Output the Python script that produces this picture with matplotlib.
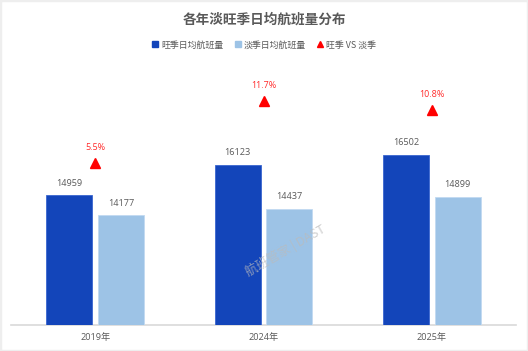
import matplotlib
matplotlib.use("Agg")
import matplotlib.pyplot as plt
from matplotlib.patches import Rectangle
from matplotlib.lines import Line2D
import numpy as np

plt.rcParams['font.family'] = ['Noto Sans CJK SC', 'DejaVu Sans']
numfam = ['Open Sans', 'Noto Sans CJK SC']

years = ["2019年", "2024年", "2025年"]
peak = [14959, 16123, 16502]
offpeak = [14177, 14437, 14899]
growth = [5.5, 11.7, 10.8]
growth_labels = ["5.5%", "11.7%", "10.8%"]

title = "各年淡旺季日均航班量分布"
leg_labels = ["旺季日均航班量", "淡季日均航班量", "旺季 VS 淡季"]

W, H = 528, 351
fig = plt.figure(figsize=(W / 100, H / 100), dpi=100)
fig.patch.set_facecolor("white")

left, right, top, bottom = 11, 516, 63.5, 324.5
ax = fig.add_axes([left / W, 1 - bottom / H, (right - left) / W, (bottom - top) / H])
ax.set_facecolor("none")

dark = "#1345BA"
light = "#9DC3E6"
grey = "#595959"

x = np.arange(len(years))
bw = 0.273
off = 0.154
b1 = ax.bar(x - off, peak, bw, color=dark, edgecolor="#3A66D0", linewidth=0.6, zorder=3)
b2 = ax.bar(x + off, offpeak, bw, color=light, edgecolor="#C2DAF1", linewidth=0.6, zorder=3)
ax.set_ylim(10000, 20000)
ax.set_xlim(-0.5, len(years) - 0.5)

for rect, v in zip(list(b1) + list(b2), peak + offpeak):
    ax.annotate(str(v), (rect.get_x() + rect.get_width() / 2, v), xytext=(0, 8.6),
                textcoords="offset points", ha="center", va="center",
                fontsize=6.6, color=grey, family=numfam)

for s in ["top", "right", "left"]:
    ax.spines[s].set_visible(False)
ax.spines["bottom"].set_color("#D9D9D9")
ax.spines["bottom"].set_linewidth(1.2)
ax.set_yticks([])
ax.set_xticks(x)
ax.set_xticklabels(years, fontsize=6.6, color=grey, family=numfam)
ax.tick_params(axis="x", length=0, pad=6)

ax2 = ax.twinx()
ax2.set_ylim(-10.65, 15.45)
ax2.plot(x, growth, linestyle="none", marker="^", markersize=7.5, color="#FF0000", zorder=4)
for xi, g, lab in zip(x, growth, growth_labels):
    ax2.annotate(lab, (xi, g), xytext=(0, 11.5), textcoords="offset points",
                 ha="center", va="center", fontsize=6.4, color="#FF2A2A", family=numfam)
ax2.set_yticks([])
for s in ax2.spines.values():
    s.set_visible(False)

fig.text(0.5, 1 - 20 / H, title, ha="center", va="center", fontsize=9.8,
         fontweight="bold", color=grey)

handles = [
    Line2D([], [], linestyle="none", marker="s", markersize=5, color=dark),
    Line2D([], [], linestyle="none", marker="s", markersize=5, color=light),
    Line2D([], [], linestyle="none", marker="^", markersize=5, color="#FF0000"),
]
leg = fig.legend(handles, leg_labels, loc="center", bbox_to_anchor=(0.5, 1 - 45 / H),
                 ncol=3, frameon=False, fontsize=6.4, handlelength=0.8,
                 handletextpad=0.3, columnspacing=1.2, labelcolor=grey)

# watermark
fig.text(285 / W, 1 - 250 / H, "航班管家 | DAST", rotation=30, ha="center", va="center",
         fontsize=9, color="#BBBBBB", alpha=0.7)

fig.patches.append(Rectangle((0, 0), 1, 1, transform=fig.transFigure, fill=False,
                             edgecolor="#EEEEEE", linewidth=2.5))

fig.savefig("out.png", dpi=100)
